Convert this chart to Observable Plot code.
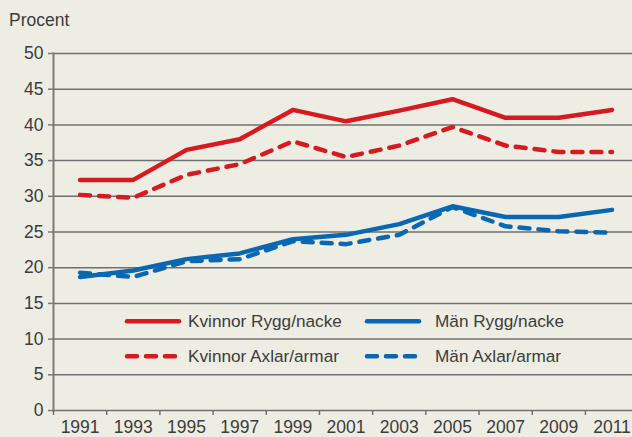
<!DOCTYPE html>
<html><head><meta charset="utf-8">
<script src="https://cdn.jsdelivr.net/npm/d3@7"></script>
<script src="https://cdn.jsdelivr.net/npm/@observablehq/plot@0.6"></script>
<style>
html,body{margin:0;padding:0;background:#eeede3;}
#wrap{position:relative;width:632px;height:437px;overflow:hidden;font-family:"Liberation Sans",Arial,sans-serif;color:#3c3c3c;}
#ylab{position:absolute;left:9px;top:12px;font-size:17.5px;line-height:1;}
.leg{position:absolute;display:flex;align-items:center;font-size:17.2px;line-height:1;white-space:nowrap;}
.leg svg{display:block;}
</style></head>
<body>
<div id="wrap"><div id="ylab">Procent</div></div>
<script>
const years = [1991, 1993, 1995, 1997, 1999, 2001, 2003, 2005, 2007, 2009, 2011];
const kvinnorRygg  = [32.3, 32.3, 36.5, 38.0, 42.1, 40.5, 42.0, 43.6, 41.0, 41.0, 42.1];
const kvinnorAxlar = [30.2, 29.8, 33.0, 34.5, 37.7, 35.5, 37.1, 39.7, 37.1, 36.2, 36.2];
const manRygg      = [18.7, 19.6, 21.2, 22.0, 24.0, 24.6, 26.1, 28.6, 27.1, 27.1, 28.1];
const manAxlar     = [19.3, 18.7, 20.9, 21.2, 23.7, 23.3, 24.6, 28.5, 25.8, 25.1, 24.9];
const seriesNames  = ["Kvinnor Rygg/nacke", "Kvinnor Axlar/armar", "Män Rygg/nacke", "Män Axlar/armar"];
const yTicks = [0, 5, 10, 15, 20, 25, 30, 35, 40, 45, 50];
const xTickMarks = [1990, 1992, 1994, 1996, 1998, 2000, 2002, 2004, 2006, 2008, 2010];

const RED = "#d71920", BLUE = "#0a67b2";
const series = [
  {name: seriesNames[0], values: kvinnorRygg, color: RED, dash: null},
  {name: seriesNames[2], values: manRygg, color: BLUE, dash: null},
  {name: seriesNames[1], values: kvinnorAxlar, color: RED, dash: "10,9"},
  {name: seriesNames[3], values: manAxlar, color: BLUE, dash: "10,9"}
];
const rows = s => years.map((year, i) => ({year, value: s.values[i]}));

const chart = Plot.plot({
  width: 632, height: 437,
  marginLeft: 53, marginRight: 0, marginTop: 53, marginBottom: 27,
  style: {background: "transparent", fontFamily: "'Liberation Sans', Arial, sans-serif", fontSize: "17.5px", color: "#3c3c3c", overflow: "visible"},
  x: {domain: [1990, 2011.77]},
  y: {domain: [0, 50]},
  marks: [
    Plot.gridY(yTicks, {stroke: "#6f6f6f", strokeOpacity: 1, strokeWidth: 1.5}),
    Plot.frame({anchor: "left", stroke: "#7a7a7a", strokeWidth: 2}),
    Plot.axisY(yTicks, {tickSize: 5, tickPadding: 5, label: null, stroke: "#7a7a7a", strokeWidth: 1.5, tickFormat: d => String(d)}),
    Plot.axisX(xTickMarks, {tickSize: 5, label: null, stroke: "#6f6f6f", strokeWidth: 1.5, tickFormat: () => ""}),
    Plot.axisX(years, {tickSize: 0, tickPadding: 10, label: null, tickFormat: d => String(d)}),
    ...series.map(s => Plot.line(rows(s), {
      x: "year", y: "value", stroke: s.color, strokeWidth: 4.5,
      strokeLinecap: "round", strokeLinejoin: "round",
      ...(s.dash ? {strokeDasharray: s.dash} : {})
    }))
  ]
});
const wrap = document.getElementById("wrap");
wrap.prepend(chart);
chart.style.position = "absolute"; chart.style.left = "0"; chart.style.top = "0";

// legend overlay
const legendItems = [
  {name: seriesNames[0], color: RED, dash: null, left: 123, top: 312.5, gap: 5},
  {name: seriesNames[1], color: RED, dash: "10,9", left: 123, top: 348, gap: 5},
  {name: seriesNames[2], color: BLUE, dash: null, left: 363, top: 312.5, gap: 12},
  {name: seriesNames[3], color: BLUE, dash: "10,9", left: 363, top: 348, gap: 12}
];
legendItems.forEach(it => {
  const d = document.createElement("div");
  d.className = "leg";
  d.style.left = it.left + "px";
  d.style.top = it.top + "px";
  d.innerHTML = `<svg width="60" height="18"><line x1="4" x2="56" y1="8.2" y2="8.2" stroke="${it.color}" stroke-width="4.5" stroke-linecap="round" ${it.dash ? `stroke-dasharray="${it.dash}"` : ""}/></svg><span style="margin-left:${it.gap}px">${it.name}</span>`;
  wrap.appendChild(d);
});
</script>
</body></html>
